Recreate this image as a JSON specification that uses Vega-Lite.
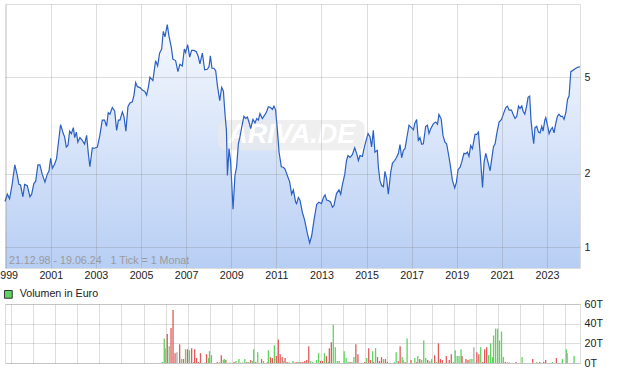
{
  "$schema": "https://vega.github.io/schema/vega-lite/v6.json",
  "background": "white",
  "padding": {"left": -7, "top": 3, "right": 0, "bottom": 0},
  "bounds": "flush",
  "spacing": 36,
  "resolve": {"legend": {"color": "independent"}, "scale": {"color": "independent"}},
  "config": {
    "font": "Liberation Sans",
    "view": {"stroke": "#dddddd"},
    "axis": {"labelFont": "Liberation Sans", "labelFontSize": 10.7, "labelColor": "#222222", "ticks": false, "domain": false, "gridColor": "#808080", "gridOpacity": 0.27, "gridWidth": 1, "labelFlush": false},
    "legend": {"labelFont": "Liberation Sans", "labelFontSize": 10.7, "labelColor": "#222222"}
  },
  "datasets": {
    "price": [
      {"d":"1998-12-21","p":1.54},{"d":"1999-01-28","p":1.65},{"d":"1999-03-05","p":1.58},{"d":"1999-04-17","p":1.82},{"d":"1999-05-29","p":2.18},{"d":"1999-07-08","p":1.97},{"d":"1999-08-03","p":1.81},{"d":"1999-08-30","p":1.80},{"d":"1999-10-07","p":1.61},{"d":"1999-11-04","p":1.81},{"d":"1999-12-17","p":1.79},
      {"d":"2000-01-29","p":1.61},{"d":"2000-02-26","p":1.65},{"d":"2000-04-02","p":1.83},{"d":"2000-04-30","p":1.86},{"d":"2000-06-06","p":2.18},{"d":"2000-07-08","p":2.18},{"d":"2000-08-16","p":1.99},{"d":"2000-09-28","p":1.85},{"d":"2000-11-06","p":2.00},{"d":"2000-12-02","p":2.05},{"d":"2000-12-29","p":2.32},
      {"d":"2001-01-26","p":2.11},{"d":"2001-03-03","p":2.19},{"d":"2001-04-04","p":2.31},{"d":"2001-05-02","p":2.66},{"d":"2001-06-08","p":3.19},{"d":"2001-07-22","p":2.93},{"d":"2001-08-12","p":2.84},{"d":"2001-09-09","p":2.58},{"d":"2001-10-05","p":2.62},{"d":"2001-11-02","p":3.00},{"d":"2001-11-30","p":2.93},
      {"d":"2002-01-01","p":3.10},{"d":"2002-01-22","p":2.82},{"d":"2002-02-19","p":2.97},{"d":"2002-03-15","p":2.70},{"d":"2002-04-17","p":2.82},{"d":"2002-05-25","p":2.75},{"d":"2002-07-02","p":2.65},{"d":"2002-08-04","p":2.88},{"d":"2002-09-01","p":2.42},{"d":"2002-09-26","p":2.14},{"d":"2002-11-04","p":2.56},{"d":"2002-12-11","p":2.55},
      {"d":"2003-01-25","p":2.58},{"d":"2003-03-06","p":2.88},{"d":"2003-04-14","p":3.33},{"d":"2003-05-21","p":3.33},{"d":"2003-06-23","p":3.14},{"d":"2003-07-20","p":3.57},{"d":"2003-08-16","p":3.52},{"d":"2003-09-24","p":3.75},{"d":"2003-11-01","p":3.63},{"d":"2003-12-03","p":3.02},
      {"d":"2004-01-01","p":3.33},{"d":"2004-01-26","p":3.33},{"d":"2004-03-04","p":3.60},{"d":"2004-03-30","p":3.45},{"d":"2004-05-01","p":3.00},{"d":"2004-06-03","p":3.78},{"d":"2004-07-05","p":3.92},{"d":"2004-08-13","p":3.96},{"d":"2004-09-09","p":4.22},{"d":"2004-10-06","p":4.75},{"d":"2004-11-03","p":4.57},{"d":"2004-12-15","p":4.53},
      {"d":"2005-01-23","p":4.43},{"d":"2005-03-05","p":4.36},{"d":"2005-04-01","p":4.22},{"d":"2005-04-29","p":4.54},{"d":"2005-05-25","p":5.00},{"d":"2005-07-12","p":4.84},{"d":"2005-08-25","p":5.85},{"d":"2005-09-27","p":5.56},{"d":"2005-10-29","p":6.28},{"d":"2005-12-01","p":6.53},{"d":"2005-12-28","p":7.72},
      {"d":"2006-01-24","p":7.32},{"d":"2006-03-02","p":8.23},{"d":"2006-03-28","p":7.41},{"d":"2006-05-06","p":6.65},{"d":"2006-06-01","p":5.93},{"d":"2006-07-15","p":5.85},{"d":"2006-08-21","p":5.27},{"d":"2006-09-23","p":5.65},{"d":"2006-11-01","p":5.56},{"d":"2006-12-03","p":6.53},{"d":"2006-12-24","p":6.32},
      {"d":"2007-01-26","p":6.80},{"d":"2007-02-28","p":6.05},{"d":"2007-03-31","p":6.44},{"d":"2007-05-07","p":6.44},{"d":"2007-06-15","p":6.36},{"d":"2007-07-17","p":6.08},{"d":"2007-08-13","p":5.67},{"d":"2007-09-21","p":6.28},{"d":"2007-10-28","p":5.36},{"d":"2007-12-11","p":5.39},
      {"d":"2008-01-07","p":5.53},{"d":"2008-01-29","p":6.12},{"d":"2008-02-24","p":5.44},{"d":"2008-03-27","p":5.44},{"d":"2008-04-24","p":5.32},{"d":"2008-05-21","p":4.64},{"d":"2008-06-28","p":4.00},{"d":"2008-07-30","p":4.54},{"d":"2008-08-27","p":4.38},{"d":"2008-09-22","p":3.52},{"d":"2008-10-15","p":3.02},{"d":"2008-10-31","p":1.97},{"d":"2008-11-26","p":2.54},{"d":"2008-12-23","p":2.23},
      {"d":"2009-01-30","p":1.43},{"d":"2009-03-02","p":1.97},{"d":"2009-03-29","p":2.14},{"d":"2009-04-26","p":2.66},{"d":"2009-05-22","p":2.84},{"d":"2009-06-18","p":3.10},{"d":"2009-07-25","p":3.45},{"d":"2009-08-22","p":3.38},{"d":"2009-09-19","p":3.43},{"d":"2009-10-15","p":3.27},{"d":"2009-11-12","p":3.07},{"d":"2009-12-19","p":3.35},
      {"d":"2010-01-21","p":3.24},{"d":"2010-02-18","p":3.38},{"d":"2010-03-16","p":3.33},{"d":"2010-04-11","p":3.54},{"d":"2010-05-19","p":3.38},{"d":"2010-06-26","p":3.49},{"d":"2010-07-28","p":3.60},{"d":"2010-08-25","p":3.78},{"d":"2010-10-01","p":3.75},{"d":"2010-10-29","p":3.68},{"d":"2010-11-24","p":3.80},{"d":"2010-12-21","p":3.66},
      {"d":"2011-01-18","p":3.02},{"d":"2011-02-14","p":2.46},{"d":"2011-03-23","p":2.14},{"d":"2011-04-24","p":2.13},{"d":"2011-05-20","p":2.10},{"d":"2011-06-28","p":1.97},{"d":"2011-08-04","p":1.86},{"d":"2011-09-06","p":1.65},{"d":"2011-10-04","p":1.72},{"d":"2011-11-10","p":1.53},{"d":"2011-11-26","p":1.51},{"d":"2011-12-24","p":1.60},
      {"d":"2012-01-19","p":1.56},{"d":"2012-02-27","p":1.39},{"d":"2012-04-04","p":1.29},{"d":"2012-05-17","p":1.14},{"d":"2012-06-24","p":1.04},{"d":"2012-07-26","p":1.11},{"d":"2012-09-02","p":1.29},{"d":"2012-10-16","p":1.50},{"d":"2012-11-22","p":1.53},
      {"d":"2013-01-01","p":1.51},{"d":"2013-02-02","p":1.60},{"d":"2013-02-28","p":1.64},{"d":"2013-03-26","p":1.56},{"d":"2013-05-02","p":1.55},{"d":"2013-05-30","p":1.53},{"d":"2013-06-27","p":1.46},{"d":"2013-07-22","p":1.48},{"d":"2013-09-01","p":1.66},{"d":"2013-10-12","p":1.72},{"d":"2013-11-09","p":1.65},{"d":"2013-12-07","p":1.81},
      {"d":"2014-01-13","p":1.99},{"d":"2014-02-10","p":2.27},{"d":"2014-03-06","p":2.38},{"d":"2014-04-08","p":2.34},{"d":"2014-05-16","p":2.40},{"d":"2014-06-23","p":2.56},{"d":"2014-07-25","p":2.43},{"d":"2014-08-22","p":2.27},{"d":"2014-09-17","p":2.38},{"d":"2014-10-26","p":2.36},{"d":"2014-11-21","p":2.54},{"d":"2014-12-18","p":2.70},
      {"d":"2015-01-25","p":2.93},{"d":"2015-02-27","p":2.84},{"d":"2015-03-24","p":2.58},{"d":"2015-04-21","p":3.02},{"d":"2015-05-17","p":2.46},{"d":"2015-06-25","p":2.50},{"d":"2015-07-11","p":2.14},{"d":"2015-08-06","p":1.88},{"d":"2015-09-03","p":1.79},{"d":"2015-10-01","p":1.77},{"d":"2015-10-26","p":2.05},{"d":"2015-11-23","p":1.91},{"d":"2015-12-20","p":1.65},
      {"d":"2016-01-27","p":2.03},{"d":"2016-02-24","p":2.21},{"d":"2016-04-01","p":2.27},{"d":"2016-05-03","p":2.34},{"d":"2016-05-31","p":2.43},{"d":"2016-06-26","p":2.64},{"d":"2016-07-23","p":2.33},{"d":"2016-08-20","p":2.50},{"d":"2016-09-15","p":2.54},{"d":"2016-10-12","p":2.79},{"d":"2016-11-19","p":3.17},{"d":"2016-12-28","p":3.10},
      {"d":"2017-01-30","p":3.04},{"d":"2017-02-20","p":3.22},{"d":"2017-03-22","p":3.35},{"d":"2017-04-19","p":2.75},{"d":"2017-05-15","p":2.82},{"d":"2017-06-12","p":2.65},{"d":"2017-07-09","p":2.66},{"d":"2017-08-16","p":3.14},{"d":"2017-09-13","p":3.17},{"d":"2017-10-09","p":2.93},{"d":"2017-11-06","p":3.07},{"d":"2017-12-19","p":3.22},
      {"d":"2018-01-26","p":3.27},{"d":"2018-02-23","p":3.20},{"d":"2018-03-19","p":3.51},{"d":"2018-04-24","p":3.37},{"d":"2018-05-23","p":2.88},{"d":"2018-06-24","p":2.70},{"d":"2018-07-21","p":2.66},{"d":"2018-08-19","p":2.42},{"d":"2018-09-14","p":2.21},{"d":"2018-10-23","p":1.88},{"d":"2018-11-29","p":1.75},{"d":"2018-12-27","p":1.85},
      {"d":"2019-01-22","p":2.08},{"d":"2019-02-24","p":2.13},{"d":"2019-03-21","p":2.23},{"d":"2019-04-28","p":2.43},{"d":"2019-05-25","p":2.42},{"d":"2019-06-22","p":2.46},{"d":"2019-07-18","p":2.36},{"d":"2019-08-15","p":2.62},{"d":"2019-09-12","p":2.54},{"d":"2019-10-24","p":2.91},{"d":"2019-11-21","p":2.91},{"d":"2019-12-18","p":2.97},
      {"d":"2020-01-13","p":2.46},{"d":"2020-02-22","p":1.76},{"d":"2020-03-18","p":2.23},{"d":"2020-04-15","p":2.43},{"d":"2020-05-22","p":2.23},{"d":"2020-06-24","p":2.06},{"d":"2020-07-21","p":2.31},{"d":"2020-08-18","p":2.59},{"d":"2020-09-13","p":2.66},{"d":"2020-10-10","p":2.93},{"d":"2020-11-17","p":3.27},{"d":"2020-12-26","p":3.35},
      {"d":"2021-01-27","p":3.54},{"d":"2021-03-05","p":3.75},{"d":"2021-04-01","p":3.80},{"d":"2021-04-27","p":3.66},{"d":"2021-06-05","p":3.66},{"d":"2021-07-07","p":3.49},{"d":"2021-08-02","p":3.38},{"d":"2021-08-30","p":3.45},{"d":"2021-09-27","p":3.80},{"d":"2021-10-22","p":3.72},{"d":"2021-11-19","p":3.81},{"d":"2021-12-10","p":3.62},
      {"d":"2022-01-07","p":3.52},{"d":"2022-02-04","p":3.78},{"d":"2022-03-01","p":4.13},{"d":"2022-03-27","p":4.18},{"d":"2022-04-17","p":3.33},{"d":"2022-05-10","p":2.93},{"d":"2022-05-31","p":2.66},{"d":"2022-06-21","p":3.10},{"d":"2022-07-19","p":3.14},{"d":"2022-08-16","p":2.97},{"d":"2022-09-11","p":2.95},{"d":"2022-10-09","p":3.14},{"d":"2022-10-30","p":3.00},{"d":"2022-11-27","p":3.33},{"d":"2022-12-13","p":3.41},
      {"d":"2023-01-10","p":3.17},{"d":"2023-02-05","p":2.93},{"d":"2023-03-03","p":3.04},{"d":"2023-03-30","p":3.10},{"d":"2023-04-25","p":2.95},{"d":"2023-05-23","p":3.22},{"d":"2023-06-19","p":3.45},{"d":"2023-07-15","p":3.52},{"d":"2023-08-12","p":3.45},{"d":"2023-09-09","p":3.45},{"d":"2023-10-05","p":3.35},{"d":"2023-11-02","p":3.57},{"d":"2023-11-30","p":4.05},{"d":"2023-12-25","p":4.18},
      {"d":"2024-01-22","p":5.27},{"d":"2024-02-19","p":5.32},{"d":"2024-04-01","p":5.41},{"d":"2024-05-19","p":5.50},{"d":"2024-06-19","p":5.52}
    ],
    "vol": [
      {"d":"2005-11-05","v":1,"c":"u"},{"d":"2005-12-06","v":25,"c":"u"},{"d":"2005-12-22","v":15,"c":"u"},{"d":"2006-01-25","v":29.5,"c":"d"},{"d":"2006-02-26","v":17,"c":"u"},{"d":"2006-03-28","v":35.6,"c":"d"},{"d":"2006-04-30","v":54,"c":"d"},{"d":"2006-06-02","v":10,"c":"d"},{"d":"2006-07-04","v":11,"c":"n"},{"d":"2006-08-17","v":19,"c":"d"},{"d":"2006-09-18","v":4,"c":"u"},{"d":"2006-10-20","v":4,"c":"d"},{"d":"2006-11-22","v":14,"c":"u"},{"d":"2006-12-24","v":14,"c":"d"},
      {"d":"2007-01-26","v":13,"c":"u"},{"d":"2007-03-03","v":15,"c":"d"},{"d":"2007-04-05","v":1,"c":"u"},{"d":"2007-04-21","v":14,"c":"d"},{"d":"2007-05-23","v":5,"c":"d"},{"d":"2007-06-25","v":1,"c":"d"},{"d":"2007-07-27","v":10,"c":"d"},{"d":"2007-10-01","v":0.4,"c":"u"},{"d":"2007-11-03","v":9,"c":"d"},{"d":"2007-12-05","v":5,"c":"u"},{"d":"2007-12-21","v":12,"c":"u"},
      {"d":"2008-01-23","v":8,"c":"u"},{"d":"2008-04-29","v":1,"c":"d"},{"d":"2008-06-01","v":0.5,"c":"d"},{"d":"2008-07-03","v":8,"c":"d"},{"d":"2008-08-05","v":3,"c":"u"},{"d":"2008-08-21","v":4,"c":"u"},{"d":"2008-09-17","v":3,"c":"d"},{"d":"2008-11-27","v":0.4,"c":"u"},
      {"d":"2009-01-30","v":1,"c":"d"},{"d":"2009-03-02","v":2,"c":"u"},{"d":"2009-04-20","v":4,"c":"u"},{"d":"2009-05-22","v":0.4,"c":"u"},{"d":"2009-06-24","v":0.4,"c":"u"},{"d":"2009-07-26","v":4,"c":"u"},{"d":"2009-08-28","v":1,"c":"d"},{"d":"2009-09-30","v":1,"c":"u"},{"d":"2009-11-01","v":3,"c":"d"},{"d":"2009-12-04","v":2,"c":"u"},{"d":"2009-12-20","v":14,"c":"u"},
      {"d":"2010-01-22","v":1,"c":"d"},{"d":"2010-02-24","v":11,"c":"u"},{"d":"2010-04-28","v":4,"c":"d"},{"d":"2010-05-30","v":2,"c":"u"},{"d":"2010-08-03","v":1,"c":"u"},{"d":"2010-08-19","v":13,"c":"u"},{"d":"2010-09-21","v":6,"c":"d"},{"d":"2010-10-23","v":5,"c":"d"},{"d":"2010-11-25","v":18,"c":"u"},{"d":"2010-12-27","v":7,"c":"d"},
      {"d":"2011-01-29","v":24,"c":"d"},{"d":"2011-03-01","v":9,"c":"d"},{"d":"2011-04-03","v":6,"c":"d"},{"d":"2011-04-19","v":2,"c":"u"},{"d":"2011-05-21","v":5,"c":"d"},{"d":"2011-06-23","v":1,"c":"d"},{"d":"2011-07-25","v":0.5,"c":"d"},{"d":"2011-09-28","v":2,"c":"u"},{"d":"2011-10-30","v":0.4,"c":"d"},{"d":"2011-12-02","v":1,"c":"d"},
      {"d":"2012-01-04","v":1,"c":"u"},{"d":"2012-02-06","v":1,"c":"d"},{"d":"2012-03-08","v":1,"c":"d"},{"d":"2012-04-10","v":2,"c":"d"},{"d":"2012-05-12","v":3,"c":"d"},{"d":"2012-06-14","v":17,"c":"d"},{"d":"2012-07-16","v":2,"c":"u"},{"d":"2012-08-18","v":1,"c":"u"},{"d":"2012-10-21","v":3,"c":"u"},{"d":"2012-11-23","v":10,"c":"u"},{"d":"2012-12-25","v":2,"c":"d"},
      {"d":"2013-01-27","v":2,"c":"d"},{"d":"2013-02-28","v":10,"c":"u"},{"d":"2013-04-01","v":7,"c":"d"},{"d":"2013-05-03","v":1,"c":"u"},{"d":"2013-05-19","v":15,"c":"d"},{"d":"2013-06-21","v":21,"c":"d"},{"d":"2013-07-23","v":39,"c":"u"},{"d":"2013-08-25","v":16,"c":"u"},{"d":"2013-09-27","v":2,"c":"u"},{"d":"2013-10-29","v":2,"c":"u"},
      {"d":"2014-01-19","v":12,"c":"u"},{"d":"2014-02-20","v":5,"c":"u"},{"d":"2014-03-23","v":1,"c":"u"},{"d":"2014-04-24","v":1,"c":"d"},{"d":"2014-05-26","v":1,"c":"u"},{"d":"2014-06-28","v":6,"c":"u"},{"d":"2014-07-30","v":19,"c":"d"},{"d":"2014-09-02","v":9,"c":"d"},{"d":"2014-12-24","v":1,"c":"d"},
      {"d":"2015-01-26","v":5,"c":"u"},{"d":"2015-02-27","v":15,"c":"d"},{"d":"2015-03-30","v":3,"c":"d"},{"d":"2015-05-02","v":12,"c":"u"},{"d":"2015-05-18","v":1,"c":"d"},{"d":"2015-06-20","v":15,"c":"u"},{"d":"2015-07-22","v":6,"c":"d"},{"d":"2015-08-24","v":2,"c":"d"},{"d":"2015-09-26","v":6,"c":"d"},{"d":"2015-10-28","v":4,"c":"u"},{"d":"2015-11-30","v":4,"c":"d"},
      {"d":"2016-01-01","v":1,"c":"d"},{"d":"2016-02-19","v":0.4,"c":"n"},{"d":"2016-04-23","v":1,"c":"u"},{"d":"2016-05-25","v":11,"c":"u"},{"d":"2016-06-27","v":2,"c":"d"},{"d":"2016-07-29","v":17,"c":"d"},{"d":"2016-09-01","v":6,"c":"u"},{"d":"2016-09-17","v":3,"c":"u"},{"d":"2016-10-19","v":1,"c":"d"},{"d":"2016-11-21","v":25,"c":"u"},
      {"d":"2017-01-24","v":3,"c":"d"},{"d":"2017-03-28","v":5,"c":"u"},{"d":"2017-04-30","v":1,"c":"d"},{"d":"2017-05-16","v":7,"c":"u"},{"d":"2017-06-18","v":4,"c":"d"},{"d":"2017-07-20","v":3,"c":"u"},{"d":"2017-08-22","v":23,"c":"u"},{"d":"2017-09-24","v":5,"c":"u"},{"d":"2017-10-26","v":3,"c":"d"},{"d":"2017-11-28","v":2,"c":"u"},{"d":"2017-12-30","v":4,"c":"u"},
      {"d":"2018-02-18","v":8,"c":"d"},{"d":"2018-03-20","v":1,"c":"u"},{"d":"2018-04-21","v":20,"c":"d"},{"d":"2018-05-24","v":4,"c":"d"},{"d":"2018-06-25","v":3,"c":"d"},{"d":"2018-08-29","v":7,"c":"d"},{"d":"2018-10-17","v":3,"c":"d"},{"d":"2018-11-19","v":9,"c":"d"},{"d":"2018-12-21","v":1,"c":"u"},
      {"d":"2019-01-23","v":13,"c":"u"},{"d":"2019-02-25","v":7,"c":"u"},{"d":"2019-03-27","v":7,"c":"u"},{"d":"2019-04-29","v":14,"c":"u"},{"d":"2019-05-15","v":7,"c":"d"},{"d":"2019-06-17","v":0.4,"c":"n"},{"d":"2019-07-19","v":4,"c":"d"},{"d":"2019-08-21","v":3,"c":"d"},{"d":"2019-09-22","v":4,"c":"u"},{"d":"2019-10-25","v":4,"c":"u"},{"d":"2019-11-27","v":16,"c":"n"},{"d":"2019-12-29","v":0.4,"c":"n"},
      {"d":"2020-01-14","v":11,"c":"d"},{"d":"2020-02-16","v":9,"c":"d"},{"d":"2020-03-18","v":16,"c":"u"},{"d":"2020-04-20","v":1,"c":"d"},{"d":"2020-05-22","v":14,"c":"d"},{"d":"2020-06-24","v":16,"c":"d"},{"d":"2020-07-26","v":8,"c":"u"},{"d":"2020-08-28","v":20,"c":"u"},{"d":"2020-09-30","v":6,"c":"u"},{"d":"2020-10-16","v":28,"c":"u"},{"d":"2020-11-18","v":35,"c":"u"},{"d":"2020-12-20","v":35,"c":"u"},
      {"d":"2021-01-22","v":23,"c":"u"},{"d":"2021-02-24","v":32,"c":"u"},{"d":"2021-03-26","v":6,"c":"u"},{"d":"2021-04-28","v":1,"c":"d"},{"d":"2021-05-30","v":0.4,"c":"d"},{"d":"2021-07-01","v":0.4,"c":"d"},{"d":"2021-10-23","v":1,"c":"d"},
      {"d":"2022-01-29","v":6,"c":"u"},{"d":"2022-07-24","v":4,"c":"d"},{"d":"2022-09-28","v":1,"c":"u"},{"d":"2022-11-16","v":1,"c":"d"},
      {"d":"2023-01-20","v":1,"c":"d"},{"d":"2023-02-21","v":3,"c":"d"},{"d":"2023-06-13","v":1,"c":"u"},{"d":"2023-08-17","v":5,"c":"d"},{"d":"2023-11-23","v":4,"c":"u"},
      {"d":"2024-01-27","v":14,"c":"u"},{"d":"2024-02-12","v":10,"c":"n"},{"d":"2024-06-04","v":7,"c":"u"}
    ]
  },
  "vconcat": [
    {
      "width": 575,
      "height": 264,
      "layer": [
        {
          "data": {"name": "price"},
          "mark": {"type": "area", "fill": {"gradient": "linear", "x1": 0, "y1": 0, "x2": 0, "y2": 1, "stops": [{"offset": 0, "color": "#f6f9fe"}, {"offset": 1, "color": "#b7cef4"}]}},
          "encoding": {
            "x": {
              "field": "d", "type": "temporal",
              "scale": {"type": "utc", "domain": [{"year":1998,"month":12,"date":21,"utc":true},{"year":2024,"month":6,"date":19,"utc":true}]},
              "axis": {
                "title": null, "grid": true, "zindex": 1, "labelPadding": 2, "labelOverlap": false, "labelFlush": false,
                "values": [{"year":1999,"month":1,"date":1,"utc":true},{"year":2000,"month":1,"date":1,"utc":true},{"year":2001,"month":1,"date":1,"utc":true},{"year":2002,"month":1,"date":1,"utc":true},{"year":2003,"month":1,"date":1,"utc":true},{"year":2004,"month":1,"date":1,"utc":true},{"year":2005,"month":1,"date":1,"utc":true},{"year":2006,"month":1,"date":1,"utc":true},{"year":2007,"month":1,"date":1,"utc":true},{"year":2008,"month":1,"date":1,"utc":true},{"year":2009,"month":1,"date":1,"utc":true},{"year":2010,"month":1,"date":1,"utc":true},{"year":2011,"month":1,"date":1,"utc":true},{"year":2012,"month":1,"date":1,"utc":true},{"year":2013,"month":1,"date":1,"utc":true},{"year":2014,"month":1,"date":1,"utc":true},{"year":2015,"month":1,"date":1,"utc":true},{"year":2016,"month":1,"date":1,"utc":true},{"year":2017,"month":1,"date":1,"utc":true},{"year":2018,"month":1,"date":1,"utc":true},{"year":2019,"month":1,"date":1,"utc":true},{"year":2020,"month":1,"date":1,"utc":true},{"year":2021,"month":1,"date":1,"utc":true},{"year":2022,"month":1,"date":1,"utc":true},{"year":2023,"month":1,"date":1,"utc":true},{"year":2024,"month":1,"date":1,"utc":true}],
                "labelExpr": "utcyear(datum.value) % 2 == 1 ? utcFormat(datum.value, '%Y') : ''"
              }
            },
            "y": {
              "field": "p", "type": "quantitative",
              "scale": {"type": "log", "domain": [0.82, 10], "nice": false, "zero": false},
              "axis": {"title": null, "orient": "right", "grid": true, "zindex": 1, "values": [1, 2, 5], "format": "~g", "labelPadding": 4}
            },
            "y2": {"datum": 0.82}
          }
        },
        {
          "data": {"values": [{"k": 1}]},
          "mark": {"type": "rect", "cornerRadius": 8, "fill": "#e9e9e9", "opacity": 0.75},
          "encoding": {
            "x": {"datum": 1212537600000, "type": "temporal"},
            "x2": {"datum": 1417478400000},
            "y": {"datum": 3.33, "type": "quantitative"},
            "y2": {"datum": 2.5}
          }
        },
        {
          "data": {"values": [{"k": 1}]},
          "mark": {"type": "text", "text": "ARIVA.DE", "font": "Liberation Sans", "fontSize": 27, "fontWeight": "bold", "fontStyle": "italic", "fill": "#ffffff", "align": "center", "baseline": "middle"},
          "encoding": {
            "x": {"datum": 1315267200000, "type": "temporal"},
            "y": {"datum": 2.88, "type": "quantitative"}
          }
        },
        {
          "data": {"name": "price"},
          "mark": {"type": "line", "color": "#2a5fc4", "strokeWidth": 1.2},
          "encoding": {
            "x": {"field": "d", "type": "temporal"},
            "y": {"field": "p", "type": "quantitative"}
          }
        },
        {
          "data": {"values": [{"k": 1}]},
          "mark": {"type": "text", "text": "21.12.98 - 19.06.24\u00a0\u00a0\u00a01 Tick = 1 Monat", "font": "Liberation Sans", "fontSize": 10.7, "fill": "#9a9a9a", "align": "left", "baseline": "alphabetic"},
          "encoding": {
            "x": {"datum": 919728000000, "type": "temporal"},
            "y": {"datum": 0.849, "type": "quantitative"}
          }
        }
      ]
    },
    {
      "width": 575,
      "height": 59,
      "data": {"name": "vol"},
      "mark": {"type": "bar", "width": 1.3},
      "encoding": {
        "x": {
          "field": "d", "type": "temporal",
          "scale": {"type": "utc", "domain": [{"year":1998,"month":12,"date":21,"utc":true},{"year":2024,"month":6,"date":19,"utc":true}]},
          "axis": {
            "title": null, "grid": true, "labels": false,
            "values": [{"year":1999,"month":1,"date":1,"utc":true},{"year":2000,"month":1,"date":1,"utc":true},{"year":2001,"month":1,"date":1,"utc":true},{"year":2002,"month":1,"date":1,"utc":true},{"year":2003,"month":1,"date":1,"utc":true},{"year":2004,"month":1,"date":1,"utc":true},{"year":2005,"month":1,"date":1,"utc":true},{"year":2006,"month":1,"date":1,"utc":true},{"year":2007,"month":1,"date":1,"utc":true},{"year":2008,"month":1,"date":1,"utc":true},{"year":2009,"month":1,"date":1,"utc":true},{"year":2010,"month":1,"date":1,"utc":true},{"year":2011,"month":1,"date":1,"utc":true},{"year":2012,"month":1,"date":1,"utc":true},{"year":2013,"month":1,"date":1,"utc":true},{"year":2014,"month":1,"date":1,"utc":true},{"year":2015,"month":1,"date":1,"utc":true},{"year":2016,"month":1,"date":1,"utc":true},{"year":2017,"month":1,"date":1,"utc":true},{"year":2018,"month":1,"date":1,"utc":true},{"year":2019,"month":1,"date":1,"utc":true},{"year":2020,"month":1,"date":1,"utc":true},{"year":2021,"month":1,"date":1,"utc":true},{"year":2022,"month":1,"date":1,"utc":true},{"year":2023,"month":1,"date":1,"utc":true},{"year":2024,"month":1,"date":1,"utc":true}]
          }
        },
        "y": {
          "field": "v", "type": "quantitative",
          "scale": {"domain": [0, 60], "nice": false},
          "axis": {"title": null, "orient": "right", "grid": true, "values": [0, 20, 40, 60], "labelExpr": "datum.value + 'T'", "labelPadding": 4}
        },
        "color": {
          "field": "c", "type": "nominal",
          "scale": {"domain": ["u", "d", "n"], "range": ["#5fd35f", "#e05a5a", "#aaaaaa"]},
          "legend": {"values": ["u"], "labelExpr": "'Volumen in Euro'", "title": null, "orient": "none", "legendX": -2, "legendY": -15, "symbolType": "square", "symbolSize": 60, "symbolStrokeColor": "#333333", "symbolStrokeWidth": 1, "labelOffset": 6, "padding": 0}
        }
      }
    }
  ]
}
